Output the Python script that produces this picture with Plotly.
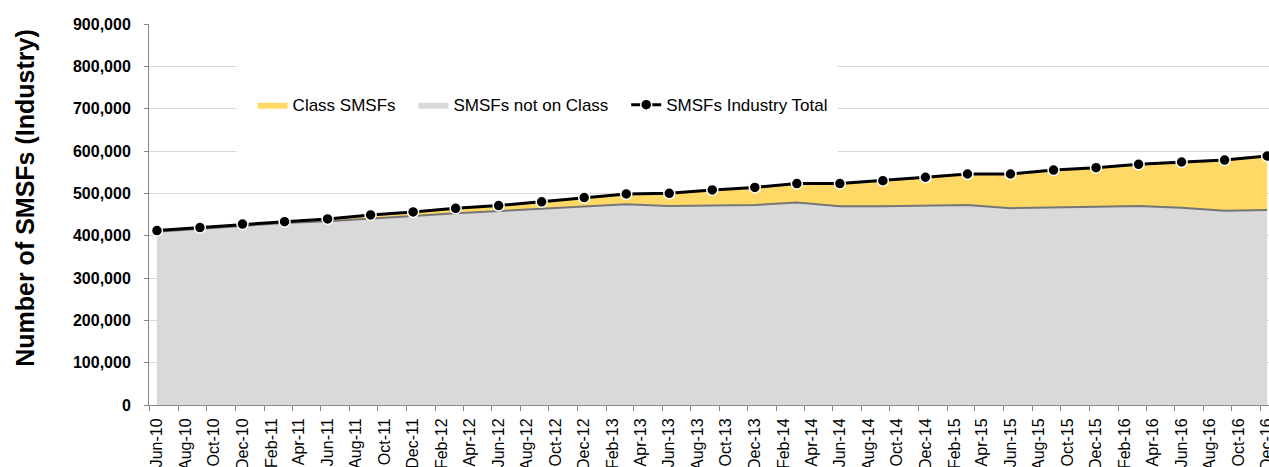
import plotly.graph_objects as go
import pandas as pd

# Quarterly observation months
quarters = ["Jun-10", "Sep-10", "Dec-10", "Mar-11", "Jun-11", "Sep-11", "Dec-11",
            "Mar-12", "Jun-12", "Sep-12", "Dec-12", "Mar-13", "Jun-13", "Sep-13",
            "Dec-13", "Mar-14", "Jun-14", "Sep-14", "Dec-14", "Mar-15", "Jun-15",
            "Sep-15", "Dec-15", "Mar-16", "Jun-16", "Sep-16", "Dec-16"]

# SMSFs Industry Total
industry_total = [412000, 419000, 427500, 433000, 439500, 449000, 456000,
                  464700, 471000, 480000, 490000, 498500, 500000, 508000,
                  514000, 523000, 523000, 530000, 538000, 545700, 545700,
                  555000, 560600, 568600, 574000, 578700, 588200]

# SMSFs not on Class
not_on_class = [409000, 416000, 424000, 430000, 434000, 441000, 446500,
                453000, 458000, 463000, 468500, 474000, 470000, 471500,
                472500, 478500, 469500, 469500, 470500, 472500, 465000,
                466000, 468500, 470000, 466000, 459000, 460500]

# Class SMSFs (the part of the industry total on Class)
class_smsfs = [t - n for t, n in zip(industry_total, not_on_class)]

# Axis tick labels: every second month
tick_months = pd.date_range("2010-06-01", "2016-12-01", freq="2MS")
tick_labels = [d.strftime("%b-%y") for d in tick_months]

dates = pd.to_datetime(quarters, format="%b-%y")

FONT = "Liberation Sans, Arial, sans-serif"
NB = "\u00a0\u00a0\u2009"  # spacing after legend entries

fig = go.Figure()

fig.add_trace(go.Scatter(
    x=dates, y=not_on_class, name="SMSFs not on Class" + NB,
    stackgroup="one", mode="lines",
    line=dict(color="#D9D9D9", width=0),
    fillcolor="#D9D9D9", legendrank=2,
))
fig.add_trace(go.Scatter(
    x=dates, y=class_smsfs, name="Class SMSFs" + NB,
    stackgroup="one", mode="lines",
    line=dict(color="#FFD966", width=0),
    fillcolor="#FFD966", legendrank=1,
))
# darker edge of the grey area
fig.add_trace(go.Scatter(
    x=dates, y=not_on_class, mode="lines", showlegend=False,
    line=dict(color="#767676", width=2), hoverinfo="skip",
))
fig.add_trace(go.Scatter(
    x=dates, y=industry_total, name="SMSFs Industry Total",
    mode="lines+markers",
    line=dict(color="#000000", width=3),
    marker=dict(color="#000000", size=11, line=dict(color="#FFFFFF", width=1.5)),
    legendrank=3,
))

# White backdrop behind the legend (hides gridlines as in the original)
fig.add_shape(type="rect", xref="x", yref="y",
              x0="2010-11-19", x1="2014-05-27", y0=580000, y1=815000,
              fillcolor="#FFFFFF", line=dict(width=0), layer="between")

fig.add_annotation(
    text="Number of SMSFs (Industry)", xref="paper", yref="paper",
    x=-0.111, y=0.543, xanchor="center", yanchor="middle",
    textangle=-90, showarrow=False,
    font=dict(family=FONT, size=25, color="#000000", weight="bold"),
)

fig.update_layout(
    width=1269, height=467,
    margin=dict(l=149, r=0, t=24, b=62, autoexpand=False),
    plot_bgcolor="#FFFFFF", paper_bgcolor="#FFFFFF",
    showlegend=True,
    legend=dict(orientation="h", x=0.0925, y=0.787, xanchor="left", yanchor="middle",
                bgcolor="rgba(0,0,0,0)", font=dict(family=FONT, size=17, color="#000000"),
                traceorder="normal"),
    font=dict(family=FONT, color="#000000"),
)

fig.update_xaxes(
    type="date", range=["2010-05-15", "2016-12-05"],
    tickmode="array",
    tickvals=[d - pd.Timedelta(days=15) for d in tick_months],
    ticktext=tick_labels, ticklabelshift=7, ticklabeloverflow="allow",
    tickangle=-90, tickfont=dict(family=FONT, size=16, color="#000000"),
    showline=True, linecolor="#868686", linewidth=1,
    ticks="outside", ticklen=5, tickcolor="#868686",
    showgrid=False, zeroline=False, ticklabelstandoff=1, automargin=False,
)
fig.update_yaxes(
    range=[0, 900000], dtick=100000, tickformat=",",
    tickfont=dict(family=FONT, size=16, color="#000000", weight="bold"),
    showline=True, linecolor="#868686", linewidth=1,
    ticks="outside", ticklen=4, tickcolor="#868686",
    gridcolor="#D9D9D9", gridwidth=1, zeroline=False,
    ticklabelstandoff=10, automargin=False,
)

fig.write_html(
    "out.html",
    config={"displayModeBar": False},
    post_script="document.body.style.margin='0';document.body.style.overflow='hidden';",
)
